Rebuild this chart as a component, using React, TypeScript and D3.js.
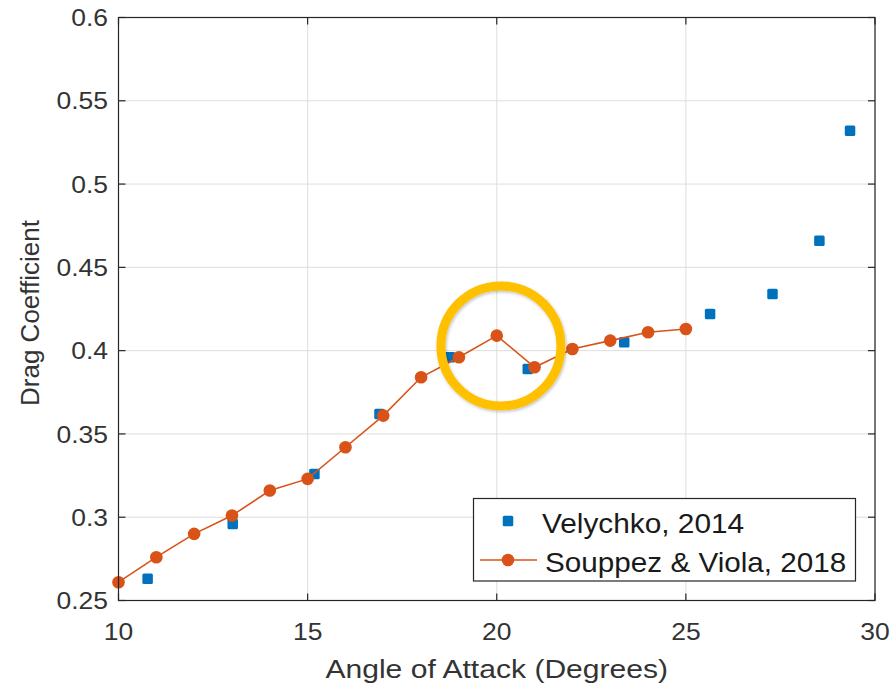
import React from "react";
import * as d3 from "d3";

// Velychko (2014) measurements
const velychkoAngle = [10.77, 13.02, 15.18, 16.9, 18.76, 20.82, 23.37, 25.64, 27.29, 28.53, 29.34];
const velychkoCd = [0.263, 0.296, 0.326, 0.362, 0.396, 0.389, 0.405, 0.422, 0.434, 0.466, 0.532];

// Souppez & Viola (2018) measurements
const souppezAngle = [10, 11, 12, 13, 14, 15, 16, 17, 18, 19, 20, 21, 22, 23, 24, 25];
const souppezCd = [0.261, 0.276, 0.29, 0.301, 0.316, 0.323, 0.342, 0.361, 0.384, 0.396, 0.409, 0.39, 0.401, 0.406, 0.411, 0.413];

const xTicks = [10, 15, 20, 25, 30];
const yTicks = [0.25, 0.3, 0.35, 0.4, 0.45, 0.5, 0.55, 0.6];
const yTickLabels = ["0.25", "0.3", "0.35", "0.4", "0.45", "0.5", "0.55", "0.6"];

const legendLabels = ["Velychko, 2014", "Souppez & Viola, 2018"];
const xTitle = "Angle of Attack (Degrees)";
const yTitle = "Drag Coefficient";

// highlighted region around the 20° peak
const highlight = { angle: 20.11, cd: 0.4028 };

const W = 894;
const H = 689;
const left = 118.5;
const right = 875;
const top = 17.5;
const bottom = 600.5;

const BLUE = "#0072BD";
const RED = "#D95319";
const AXIS = "#262626";
const TEXT = "#333333";
const FONT = "'Liberation Sans', Arial, Helvetica, sans-serif";

// text placed at (x, y) with an optional horizontal stretch
function Label(props: {
  x: number;
  y: number;
  sx?: number;
  size: number;
  anchor?: "start" | "middle" | "end";
  fill?: string;
  dy?: string;
  children: React.ReactNode;
}) {
  const { x, y, sx = 1, size, anchor = "start", fill = TEXT, dy, children } = props;
  return (
    <text
      transform={`translate(${x},${y}) scale(${sx},1)`}
      fontSize={size}
      textAnchor={anchor}
      fill={fill}
      dy={dy}
    >
      {children}
    </text>
  );
}

export default function App() {
  const x = d3.scaleLinear().domain([10, 30]).range([left, right]);
  const y = d3.scaleLinear().domain([0.25, 0.6]).range([bottom, top]);

  const souppez = souppezAngle.map((a, i) => [a, souppezCd[i]] as [number, number]);
  const line = d3
    .line<[number, number]>()
    .x((d) => x(d[0]))
    .y((d) => y(d[1]));

  const tickLen = 7;
  const sq = 10.5;

  const lg = { x0: 473.5, y0: 498.5, x1: 855.5, y1: 581 };

  return (
    <svg
      width={W}
      height={H}
      style={{ position: "absolute", left: 0, top: 0, background: "#fff" }}
      fontFamily={FONT}
    >
      <defs>
        <filter id="ringShadow" x="-20%" y="-20%" width="140%" height="140%">
          <feDropShadow dx="1" dy="1.5" stdDeviation="1.5" floodColor="#000" floodOpacity="0.25" />
        </filter>
      </defs>
      <rect x={0} y={0} width={W} height={H} fill="#fff" />

      {/* grid */}
      <g stroke="#dedede" strokeWidth={1}>
        {xTicks.map((t) => (
          <line key={"gx" + t} x1={x(t)} x2={x(t)} y1={top} y2={bottom} />
        ))}
        {yTicks.map((t) => (
          <line key={"gy" + t} x1={left} x2={right} y1={y(t)} y2={y(t)} />
        ))}
      </g>

      {/* Velychko squares */}
      <g fill={BLUE}>
        {velychkoAngle.map((a, i) => (
          <rect
            key={"v" + i}
            x={x(a) - sq / 2}
            y={y(velychkoCd[i]) - sq / 2}
            width={sq}
            height={sq}
            rx={1.5}
          />
        ))}
      </g>

      {/* Souppez & Viola line with markers */}
      <path d={line(souppez) ?? ""} fill="none" stroke={RED} strokeWidth={1.6} />
      <g fill={RED}>
        {souppez.map((d, i) => (
          <circle key={"s" + i} cx={x(d[0])} cy={y(d[1])} r={6.3} />
        ))}
      </g>

      {/* axes box and ticks */}
      <rect
        x={left}
        y={top}
        width={right - left}
        height={bottom - top}
        fill="none"
        stroke={AXIS}
        strokeWidth={1.2}
      />
      <g stroke={AXIS} strokeWidth={1.2}>
        {xTicks.map((t) => (
          <g key={"tx" + t}>
            <line x1={x(t)} x2={x(t)} y1={bottom} y2={bottom - tickLen} />
            <line x1={x(t)} x2={x(t)} y1={top} y2={top + tickLen} />
          </g>
        ))}
        {yTicks.map((t) => (
          <g key={"ty" + t}>
            <line x1={left} x2={left + tickLen} y1={y(t)} y2={y(t)} />
            <line x1={right} x2={right - tickLen} y1={y(t)} y2={y(t)} />
          </g>
        ))}
      </g>

      {/* tick labels */}
      {xTicks.map((t) => (
        <Label key={"lx" + t} x={x(t)} y={640} size={24.5} sx={1.08} anchor="middle">
          {t}
        </Label>
      ))}
      {yTicks.map((t, i) => (
        <Label key={"ly" + t} x={108} y={y(t)} dy="0.35em" size={24.5} sx={1.08} anchor="end">
          {yTickLabels[i]}
        </Label>
      ))}

      {/* axis titles */}
      <Label x={(left + right) / 2} y={678} size={25.5} sx={1.18} anchor="middle">
        {xTitle}
      </Label>
      <text
        transform={`translate(39,${(top + bottom) / 2 + 4}) rotate(-90)`}
        textAnchor="middle"
        fontSize={26}
        fill={TEXT}
      >
        {yTitle}
      </text>

      {/* highlight ring */}
      <circle
        cx={x(highlight.angle)}
        cy={y(highlight.cd)}
        r={60}
        fill="none"
        stroke="#FFC000"
        strokeWidth={9}
        filter="url(#ringShadow)"
      />

      {/* legend */}
      <rect
        x={lg.x0}
        y={lg.y0}
        width={lg.x1 - lg.x0}
        height={lg.y1 - lg.y0}
        fill="#fff"
        stroke={AXIS}
        strokeWidth={1.2}
      />
      <rect x={508 - sq / 2} y={521 - sq / 2} width={sq} height={sq} rx={1.5} fill={BLUE} />
      <line x1={480} x2={537} y1={560} y2={560} stroke={RED} strokeWidth={1.6} />
      <circle cx={508} cy={560} r={6.3} fill={RED} />
      <Label x={542} y={533} size={28} sx={1.065} fill="#1a1a1a">
        {legendLabels[0]}
      </Label>
      <Label x={545} y={571.5} size={28} sx={1.06} fill="#1a1a1a">
        {legendLabels[1]}
      </Label>
    </svg>
  );
}
